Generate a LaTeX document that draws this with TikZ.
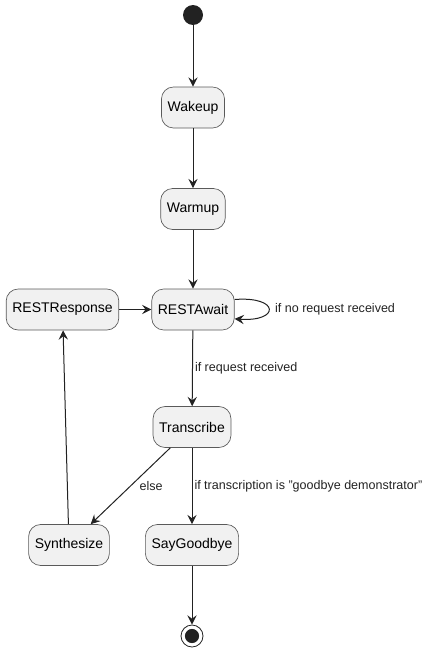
\documentclass[tikz,border=0pt]{standalone}
\usepackage{fontspec}
\setmainfont{Liberation Sans}
\usetikzlibrary{arrows.meta}
\definecolor{boxfill}{HTML}{F1F1F1}
\definecolor{boxline}{HTML}{5A5A5A}
\definecolor{dot}{HTML}{222222}

\begin{document}
\begin{tikzpicture}[x=0.75pt, y=-0.75pt, >={Stealth[length=7pt, width=7pt, inset=2.6pt]}, font=\fontsize{10.5}{12}\selectfont]
            \tikzset{
                state/.style={draw=boxline, fill=boxfill, rounded corners=9pt,
                    minimum height=30.75pt, inner xsep=4.6pt, line width=0.5pt},
                lbl/.style={font=\fontsize{9.4}{11}\selectfont, inner sep=1.5pt},
                flow/.style={->, line width=0.75pt, dot}
            }
            \useasboundingbox (0,0) rectangle (438,653);
            % start and end points
            \node[circle, fill=dot, minimum size=15pt, inner sep=0] (init) at (193,15) {};
            \node[circle, draw=dot, line width=0.6pt, minimum size=16.5pt, inner sep=0] (final) at (192,636) {};
            \fill[dot] (final) circle (5.3pt);
            % states
            \node[state] (wakeup) at (193,107.5) {Wakeup};
            \node[state] (warmup) at (193,209) {Warmup};
            \node[state] (await) at (193,309.5) {RESTAwait};
            \node[state] (response) at (62.5,309.5) {RESTResponse};
            \node[state] (transcribe) at (192,427) {Transcribe};
            \node[state] (synth) at (69,545) {Synthesize};
            \node[state] (bye) at (192,545) {SayGoodbye};
            % transitions
            \draw[flow] ([yshift=7.5pt]await.east) .. controls (280,296) and (280,322) ..
                node[lbl, right, xshift=3pt] {if no request received} ([yshift=-7pt]await.east);
            \draw[flow] (init) -- (wakeup);
            \draw[flow] (wakeup) -- (warmup);
            \draw[flow] (warmup) -- (await);
            \draw[flow] (response) -- (await);
            \draw[flow] (await) -- node[lbl, right] {if request received} (transcribe);
            \draw[flow] (transcribe) -- node[lbl, right, xshift=5pt] {else} (synth);
            \draw[flow] (transcribe) -- node[lbl, right] {if transcription is "goodbye demonstrator"} (bye);
            \draw[flow] (synth) -- (response);
            \draw[flow] (bye) -- (final);
        \end{tikzpicture}
\end{document}
